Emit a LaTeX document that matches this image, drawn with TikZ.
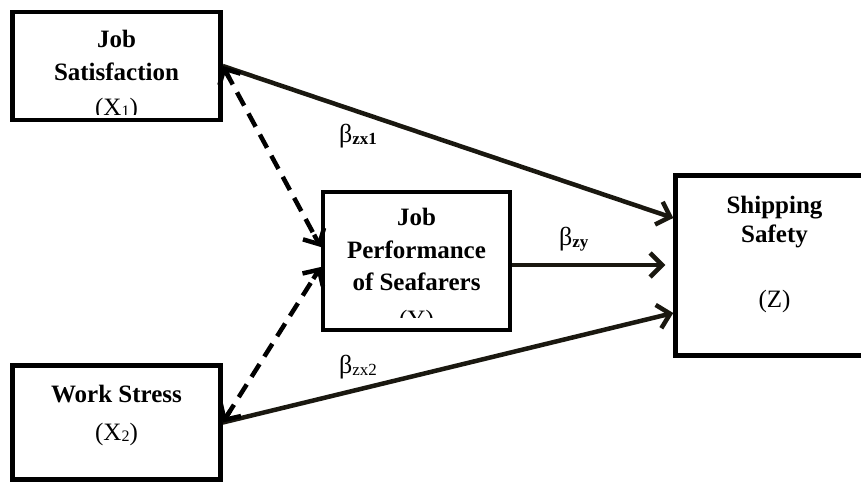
\documentclass[tikz,border=0pt]{standalone}
\usepackage{fontspec}
\setmainfont{Liberation Serif}
\usetikzlibrary{arrows.meta,calc}
\definecolor{arrc}{RGB}{26,24,16}
\begin{document}
\begin{tikzpicture}[x=1pt,y=-1pt,
  box/.style={draw=black,line width=4.5pt,inner sep=0pt,rectangle,fill=none},
  lbl/.style={inner sep=0pt,anchor=base,font=\fontsize{25}{28}\selectfont},
  beta/.style={inner sep=0pt,anchor=base west,font=\fontsize{26}{28}\selectfont},
  arr/.style={draw=arrc,line width=4.5pt,-{Straight Barb[length=12pt,width=24pt]}},
  dline/.style={draw=black,line width=4.5pt,dash pattern=on 15pt off 9pt},
  dtip/.style={draw=black,line width=4.5pt,solid,-{Straight Barb[length=12pt,width=24pt]}}]
\useasboundingbox (0,0) rectangle (861,482);
\fill[white] (0,0) rectangle (861,482);
% boxes
\node[box,minimum width=208pt,minimum height=108pt] (x1) at (116.5,66) {};
\node[box,minimum width=187pt,minimum height=138pt] (y) at (416.5,261) {};
\node[box,minimum width=198pt,minimum height=180pt] (z) at (774.5,265.5) {};
\node[box,minimum width=208pt,minimum height=114pt] (x2) at (116.5,422.5) {};
% texts
\begin{scope}
\clip (14,14) rectangle (219,114);
\node[lbl] (t1a) at (116.5,47) {\bfseries Job};
\node[lbl] (t1b) at (116.5,80) {\bfseries Satisfaction};
\node[lbl] (t1c) at (116.5,115) {(X\raisebox{-1pt}{\fontsize{16}{16}\selectfont 1})};
\end{scope}
\begin{scope}
\clip (325,194) rectangle (508,317);
\node[lbl] (tya) at (416.5,225) {\bfseries Job};
\node[lbl] (tyb) at (416.5,258) {\bfseries Performance};
\node[lbl] (tyc) at (416.5,290) {\bfseries of Seafarers};
\node[lbl] (tyd) at (416.5,327) {(Y)};
\end{scope}
\node[lbl] (tza) at (774.5,213) {\bfseries Shipping};
\node[lbl] (tzb) at (774.5,242) {\bfseries Safety};
\node[lbl] (tzc) at (774.5,307) {(Z)};
\node[lbl] (t2a) at (116.5,402) {\bfseries Work Stress};
\node[lbl] (t2b) at (116.5,440) {(X\raisebox{-1pt}{\fontsize{16}{16}\selectfont 2})};
% labels
\node[beta] (bzx1) at (339,142) {β\raisebox{-2pt}{\fontsize{17}{17}\selectfont\bfseries zx1}};
\node[beta] (bzy) at (559,245) {β\raisebox{-2pt}{\fontsize{17}{17}\selectfont\bfseries zy}};
\node[beta] (bzx2) at (339,373) {β\raisebox{-2pt}{\fontsize{17}{17}\selectfont zx2}};
% connectors
\draw[arr] (x1.east) -- ([yshift=47.5pt]z.west);
\draw[arr] (x2.east) -- ([yshift=-47.5pt]z.west);
\coordinate (ye) at ([yshift=-4pt]y.east);
\draw[arr,shorten >=8pt] (ye) -- (ye -| z.west);
% dashed double-headed connectors
\coordinate (a1) at (x1.east);
\coordinate (b1) at ([yshift=14pt]y.west);
\coordinate (a2) at (x2.east);
\coordinate (b2) at ([yshift=-6pt]y.west);
\draw[dline,shorten <=6pt,shorten >=6pt] (a1) -- (b1);
\draw[dtip] ($(b1)!14pt!(a1)$) -- (b1);
\draw[dtip] ($(a1)!14pt!(b1)$) -- (a1);
\draw[dline,shorten <=6pt,shorten >=6pt] (a2) -- (b2);
\draw[dtip] ($(b2)!14pt!(a2)$) -- (b2);
\draw[dtip] ($(a2)!14pt!(b2)$) -- (a2);
\end{tikzpicture}
\end{document}
